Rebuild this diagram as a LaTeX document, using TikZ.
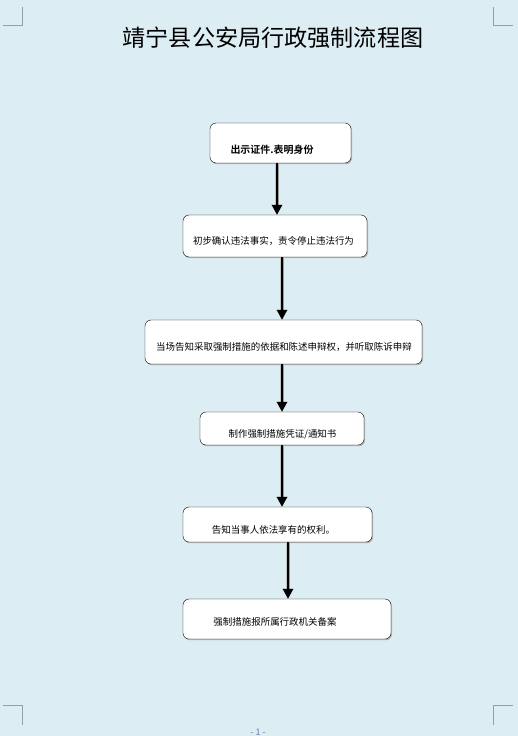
\documentclass[tikz,border=0pt]{standalone}
\usepackage{fontspec}
\newfontfamily\cjk{Noto Sans CJK SC}
\newfontfamily\cjkbold{Noto Sans CJK SC Bold}
\usetikzlibrary{arrows.meta,shadows}
\definecolor{pagebg}{RGB}{220,237,243}
\definecolor{markgray}{RGB}{150,160,166}
\definecolor{pagenum}{RGB}{110,120,160}

\begin{document}
\begin{tikzpicture}[x=1bp,y=-1bp,font=\cjk\fontsize{9.5}{11}\selectfont,
  box/.style={draw,rounded corners=6bp,fill=white,inner sep=0pt,
    drop shadow={shadow xshift=1bp,shadow yshift=-1.2bp,fill=gray!70,opacity=0.8}},
  arr/.style={line width=2bp,-{Triangle[width=10bp,length=10bp]},
    preaction={draw=gray!60,line width=3.5bp,-{Triangle[width=11bp,length=10bp]}}}]
\clip (0,0) rectangle (518,736);
\fill[pagebg] (0,0) rectangle (518,736);
% corner marks
\draw[markgray] (3,25) -- (22,25) -- (22,7);
\draw[markgray] (513,25) -- (493,25) -- (493,7);
\draw[markgray] (3,705) -- (22,705) -- (22,725);
\draw[markgray] (513,705) -- (493,705) -- (493,725);
\node[text=pagenum,font=\cjk\fontsize{9}{10}\selectfont,inner sep=0pt] (pnum) at (258,732) {- 1 -};
% title
\node (title) at (273,38) {\fontsize{23.2}{25}\selectfont 靖宁县公安局行政强制流程图};
% boxes
\node[box,minimum width=141bp,minimum height=40bp] (b1) at (280.5,143) {};
\node[box,minimum width=184bp,minimum height=42bp] (b2) at (275,236) {};
\node[box,minimum width=277bp,minimum height=44bp] (b3) at (283.5,342) {};
\node[box,minimum width=164bp,minimum height=33bp] (b4) at (282,428.5) {};
\node[box,minimum width=189bp,minimum height=35bp] (b5) at (277.5,524.5) {};
\node[box,minimum width=208bp,minimum height=40bp] (b6) at (287,619) {};
% texts
\node[font=\cjkbold\fontsize{10}{12}\selectfont] (t1) at (272,150) {出示证件.表明身份};
\node (t2) at (273.5,241) {初步确认违法事实，责令停止违法行为};
\node (t3) at (284,347) {当场告知采取强制措施的依据和陈述申辩权，并听取陈诉申辩};
\node (t4) at (282.5,434) {制作强制措施凭证/通知书};
\node (t5) at (273.5,530) {告知当事人依法享有的权利。};
\node (t6) at (275,622) {强制措施报所属行政机关备案};
% arrows
\draw[arr] ([xshift=-3.5bp]b1.south) -- ([xshift=2bp]b2.north);
\draw[arr] ([xshift=7bp]b2.south) -- ([xshift=-1.5bp]b3.north);
\draw[arr] ([xshift=-1.5bp]b3.south) -- (b4.north);
\draw[arr] (b4.south) -- ([xshift=4.5bp]b5.north);
\draw[arr] ([xshift=10.5bp]b5.south) -- ([xshift=1bp]b6.north);
\end{tikzpicture}
\end{document}
